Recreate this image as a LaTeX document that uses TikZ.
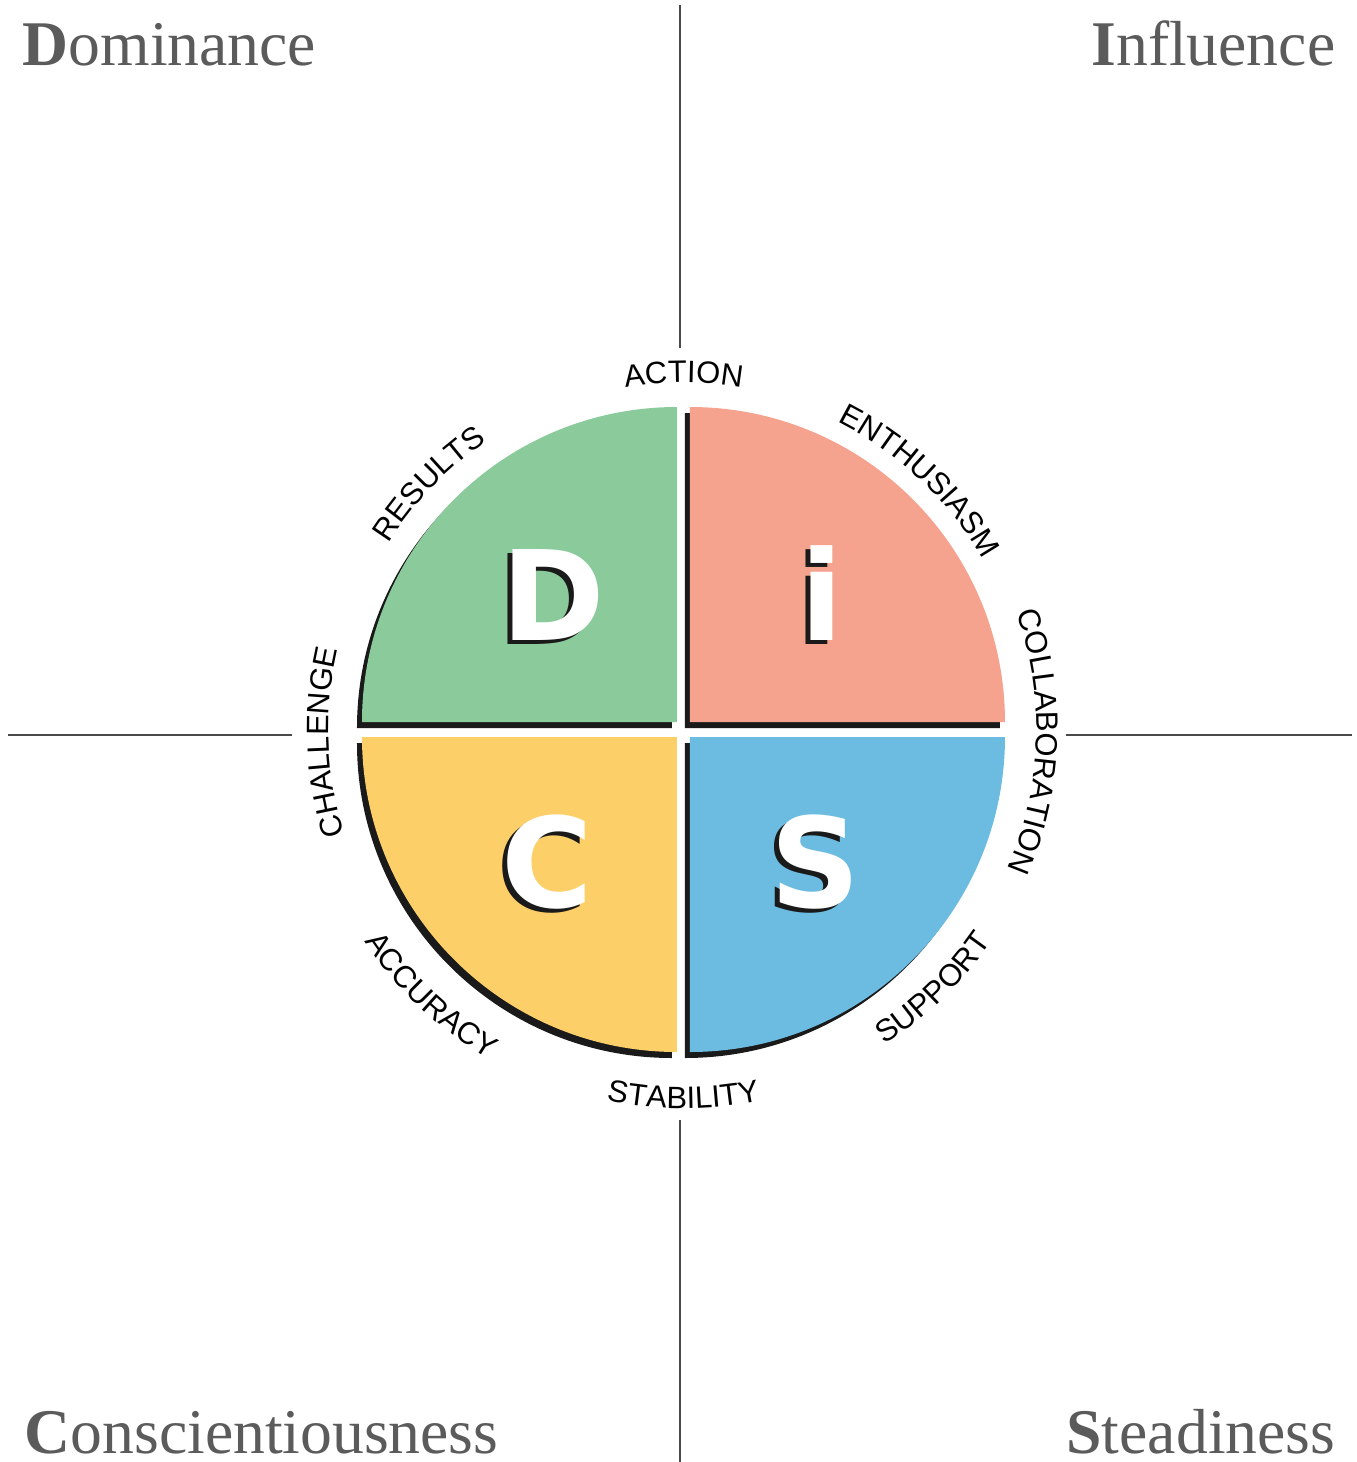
\documentclass[tikz,border=0pt]{standalone}
\usepackage{fontspec}
\setmainfont{Liberation Serif}
\newfontfamily\lblfont{Liberation Sans}
\newfontfamily\bigfont{DejaVu Sans}
\usetikzlibrary{decorations.text}
\definecolor{discgreen}{HTML}{8BCB9B}
\definecolor{discred}{HTML}{F5A28E}
\definecolor{discyellow}{HTML}{FDCF69}
\definecolor{discblue}{HTML}{6CBCE2}
\definecolor{shadowblack}{HTML}{1A1A1A}
\definecolor{titlegray}{HTML}{5B5B5B}
\definecolor{axisgray}{HTML}{4A4A4A}
\newcommand\lblstyle{\lblfont\fontsize{8.8}{10}\selectfont}
\def\quadrant[#1](#2)(#3:#4){\fill[shadowblack, shift={(-5,-6)}] (#2) -- ++(#3:315) arc (#3:#4:315) -- cycle; \fill[#1] (#2) -- ++(#3:315) arc (#3:#4:315) -- cycle;}
\def\toplabel(#1:#2)#3{\path[decorate, decoration={text along path, text={|\lblstyle|#3}, text align=center}] ({#1+50}:#2) arc ({#1+50}:{#1-50}:#2);}
\def\botlabel(#1:#2)#3{\path[decorate, decoration={text along path, text={|\lblstyle|#3}, text align=center}] ({#1-50}:#2) arc ({#1-50}:{#1+50}:#2);}
\tikzset{
	axisline/.style={draw=axisgray, line width=0.6pt},
	title/.style={text=titlegray, inner sep=0pt, font=\fontsize{18.1}{20}\selectfont},
	bigletter/.style={text=white, inner sep=0pt, anchor=base, font=\bigfont\bfseries\fontsize{35.5}{36}\selectfont},
	bigshadow/.style={bigletter, text=shadowblack}
}

\begin{document}
\begin{tikzpicture}[x=0.01cm, y=0.01cm]
	%%%%% START %%%%%
	\useasboundingbox (-683.5, -732.5) rectangle (672.5, 729.5);

	% axes
	\coordinate (axtopA) at (-3.5, 724.5);
	\coordinate (axtopB) at (-3.5, 381.5);
	\coordinate (axbotA) at (-3.5, -390.5);
	\coordinate (axbotB) at (-3.5, -732.5);
	\coordinate (axleftA) at (-675.5, -5.5);
	\coordinate (axleftB) at (-391.5, -5.5);
	\coordinate (axrightA) at (382.5, -5.5);
	\coordinate (axrightB) at (668.5, -5.5);
	\draw[axisline] (axtopA) -- (axtopB);
	\draw[axisline] (axbotA) -- (axbotB);
	\draw[axisline] (axleftA) -- (axleftB);
	\draw[axisline] (axrightA) -- (axrightB);

	% quadrants
	\quadrant[discgreen](-6.5, 7.5)(90:180)
	\quadrant[discred](6.5, 7.5)(0:90)
	\quadrant[discyellow](-6.5, -7.5)(180:270)
	\quadrant[discblue](6.5, -7.5)(270:360)

	% big letters
	\node[bigshadow] (Dshadow) at (-135.5, 85.5) {D};
	\node[bigletter] (Dletter) at (-130.5, 89.5) {D};
	\node[bigshadow] (ishadow) at (133.5, 85.5) {i};
	\node[bigletter] (iletter) at (138.5, 89.5) {i};
	\node[bigshadow] (Cshadow) at (-141.5, -181.5) {C};
	\node[bigletter] (Cletter) at (-136.5, -177.5) {C};
	\node[bigshadow] (Sshadow) at (126.5, -181.5) {S};
	\node[bigletter] (Sletter) at (131.5, -177.5) {S};

	% words round the circle
	\toplabel(90:347){ACTION}
	\toplabel(46.5:344){ENTHUSIASM}
	\toplabel(-2:353){COLLABORATION}
	\toplabel(136:349){RESULTS}
	\toplabel(182:355){CHALLENGE}
	\botlabel(-46:374){SUPPORT}
	\botlabel(-90:379){STABILITY}
	\botlabel(-133.5:383){ACCURACY}

	% corner titles
	\node[title, anchor=base west] (dominance) at (-661.5, 664.5) {{\bfseries D}ominance};
	\node[title, anchor=base east] (influence) at (652.5, 664.5) {{\bfseries I}nfluence};
	\node[title, anchor=base west] (conscient) at (-659.5, -723.5) {{\bfseries C}onscientiousness};
	\node[title, anchor=base east] (steadiness) at (652.5, -723.5) {{\bfseries S}teadiness};

	%%%%% END %%%%%
\end{tikzpicture}
\end{document}
